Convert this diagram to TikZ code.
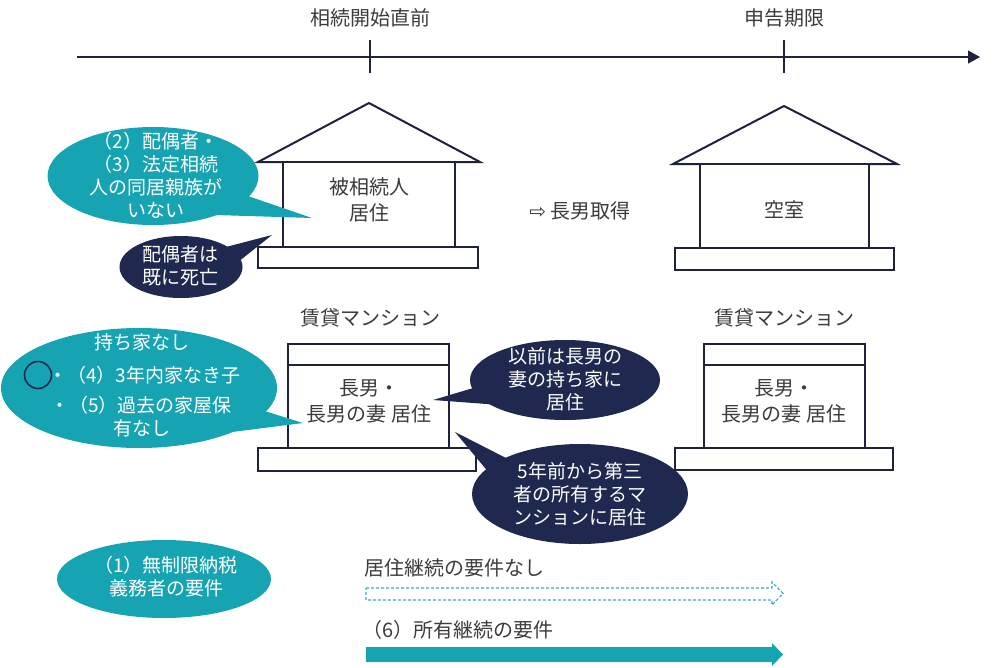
\documentclass[tikz,border=0pt]{standalone}
\usepackage{fontspec}
\setmainfont{Noto Sans CJK JP}
\newfontfamily\symfont{DejaVu Sans}
\usetikzlibrary{shapes.geometric,arrows.meta}
\definecolor{teal1}{RGB}{23,164,178}
\definecolor{teallt}{RGB}{60,170,188}
\definecolor{navy1}{RGB}{31,40,78}
\definecolor{txt}{RGB}{60,60,60}
\definecolor{line1}{RGB}{30,34,60}
\begin{document}
\begin{tikzpicture}[x=1pt,y=-1pt,
  lbl/.style={text=txt,font=\fontsize{20}{26}\selectfont,align=center,inner sep=0},
  ctxt/.style={text=white,font=\fontsize{19}{23}\selectfont,align=center,inner sep=0},
  bub/.style={ellipse,inner sep=0,draw=none},
  hline/.style={draw=line1,line width=2pt,fill=white,line join=miter},
]
\useasboundingbox (0,0) rectangle (993,667);

% timeline
\coordinate (tl0) at (77,57);
\coordinate (tl1) at (980,57);
\draw[line1,line width=1.3pt,-{Triangle[length=12pt,width=13pt]}] (tl0) -- (tl1);
\coordinate (t1a) at (370,40); \coordinate (t1b) at (370,73);
\coordinate (t2a) at (784,40); \coordinate (t2b) at (784,73);
\draw[line1,line width=1.5pt] (t1a) -- (t1b);
\draw[line1,line width=1.5pt] (t2a) -- (t2b);
\node[lbl] (lab1) at (370,18) {相続開始直前};
\node[lbl] (lab2) at (784,18) {申告期限};

% left house
\draw[hline] (258,162) -- (369,103) -- (480,162) -- cycle;
\draw[hline] (283,162) rectangle (455,247);
\draw[hline] (258,247) rectangle (478,268);
\node[lbl] (h1) at (369,200) {被相続人\\居住};

% right house
\draw[hline] (673,164) -- (784,106) -- (897,164) -- cycle;
\draw[hline] (700,164) rectangle (869,248);
\draw[hline] (675,248) rectangle (894,270);
\node[lbl] (h2) at (784,210) {空室};

\node[lbl] (acq) at (580,211) {{\symfont ⇨} 長男取得};

% lower left building
\node[lbl] (m1) at (370,318) {賃貸マンション};
\draw[hline] (288,344) rectangle (449,448);
\draw[hline] (288,365) -- (449,365);
\draw[hline] (258,448) rectangle (476,471);
\node[lbl] (r1) at (369,401) {長男・\\長男の妻 居住};

% lower right building
\node[lbl] (m2) at (784,318) {賃貸マンション};
\draw[hline] (704,344) rectangle (865,448);
\draw[hline] (704,365) -- (865,365);
\draw[hline] (675,448) rectangle (893,470);
\node[lbl] (r2) at (784,401) {長男・\\長男の妻 居住};

% callout 1 (teal)
\node[bub,fill=teal1,minimum width=211,minimum height=98] (c1) at (153,176) {};
\fill[teal1] (245,195) -- (312,218) -- (215,215) -- cycle;
\node[ctxt] (c1t) at (156,175) {（2）配偶者・\\（3）法定相続\\人の同居親族が\\いない};

% callout 2 (navy)
\node[bub,fill=navy1,minimum width=123,minimum height=62] (c2) at (181,267) {};
\fill[navy1] (222,248) -- (272,235) -- (238,262) -- cycle;
\node[ctxt] (c2t) at (180,266) {配偶者は\\既に死亡};

% callout 3 (teal)
\node[bub,fill=teal1,minimum width=276,minimum height=120] (c3) at (139,388) {};
\fill[teal1] (255,408) -- (303,423) -- (232,432) -- cycle;
\node[ctxt] (c3a) at (142,342) {持ち家なし};
\node[ctxt,anchor=west] (c3b) at (48,375) {・（4）3年内家なき子};
\node[ctxt,anchor=west] (c3c) at (50,405) {・（5）過去の家屋保};
\node[ctxt] (c3d) at (142,428) {有なし};
\node[circle,draw=navy1,line width=1.6pt,minimum size=27,inner sep=0] (circ) at (38,375) {};

% callout 4 (navy)
\node[bub,fill=navy1,minimum width=190,minimum height=80] (c4) at (565,380) {};
\fill[navy1] (490,383) -- (433,400) -- (500,405) -- cycle;
\node[ctxt] (c4t) at (565,379) {以前は長男の\\妻の持ち家に\\居住};

% callout 5 (navy)
\node[bub,fill=navy1,minimum width=216,minimum height=100] (c5) at (580,494) {};
\fill[navy1] (510,460) -- (455,432) -- (495,480) -- cycle;
\node[ctxt] (c5t) at (580,494) {5年前から第三\\者の所有するマ\\ンションに居住};

% callout 6 (teal)
\node[bub,fill=teal1,minimum width=214,minimum height=78] (c6) at (164,579) {};
\node[ctxt] (c6t) at (166,577) {（1）無制限納税\\義務者の要件};

% bottom arrows
\node[lbl,anchor=west] (b1) at (364,568) {居住継続の要件なし};
\draw[teallt,line width=1.1pt,dash pattern=on 3pt off 2pt]
  (366,588) -- (772,588) -- (772,582) -- (783,593.5) -- (772,605) -- (772,600) -- (366,600) -- cycle;
\node[lbl,anchor=west] (b2) at (362,630) {（6）所有継続の要件};
\fill[teal1]
  (366,647) -- (772,647) -- (772,643) -- (783,654.5) -- (772,666) -- (772,662) -- (366,662) -- cycle;
\end{tikzpicture}
\end{document}
